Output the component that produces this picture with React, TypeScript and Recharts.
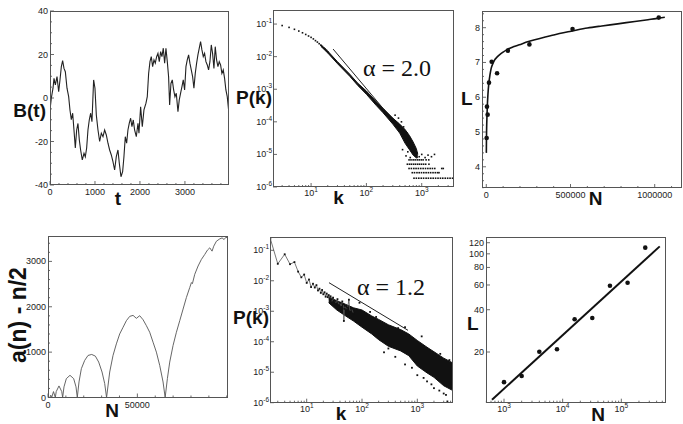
import React from 'react'
import {
  ComposedChart,
  XAxis,
  YAxis,
  Line,
  Area,
  Scatter,
} from 'recharts'

const W = 683
const H = 424
const SANS = '"Liberation Sans", Arial, sans-serif'
const SERIF = '"Liberation Serif", "Times New Roman", serif'

// ---- panel 1: random walk B(t)
const walkT = [0, 30, 67, 89, 119, 156, 193, 222, 252, 281, 311, 341, 378, 415, 444, 474, 504, 533, 563, 593, 622, 652, 681, 718, 756, 785, 815, 844, 874, 904, 933, 970, 1000, 1030, 1067, 1104, 1141, 1178, 1215, 1252, 1289, 1326, 1363, 1400, 1437, 1474, 1511, 1541, 1578, 1615, 1644, 1674, 1704, 1733, 1763, 1793, 1822, 1852, 1881, 1919, 1956, 1978, 2015, 2052, 2089, 2134, 2163, 2193, 2223, 2252, 2282, 2312, 2341, 2371, 2400, 2430, 2460, 2489, 2519, 2549, 2578, 2608, 2637, 2660, 2689, 2719, 2749, 2778, 2808, 2845, 2874, 2904, 2934, 2963, 2993, 3023, 3052, 3082, 3111, 3141, 3171, 3200, 3230, 3260, 3289, 3319, 3348, 3378, 3408, 3437, 3467, 3497, 3526, 3556, 3586, 3615, 3645, 3674, 3704, 3734, 3763, 3793, 3822, 3852, 3882, 3911, 3941, 3971]
const walkB = [-5.5, 0, 4.5, 9, 6, 9.8, 2.9, 8.3, 14.4, 17.2, 13.6, 12.1, 4.5, 0.6, -5.5, -10, -7, -14.7, -23, -14.7, -11.7, -19.3, -23.9, -28.5, -25.4, -27, -23, -14.7, -10, -7, -10.9, 8.3, 4.5, -7.8, -14.7, -20, -16.2, -17.8, -14.7, -17, -20.8, -23.9, -26.2, -29.3, -33.1, -27, -23.9, -30, -36.2, -33.9, -27, -17.8, -20.8, -14.7, -11.6, -9.3, -13.2, -10.1, -14.7, -17.8, -11.6, -16.2, -4, -13.2, -5.5, -2.4, 0.6, 11.3, 16.7, 19, 14.4, 17.5, 16, 19, 20.5, 16.7, 21.3, 19, 22.9, 16, 22.9, 16.7, 9.8, -3.2, 6.7, 8.3, 3.7, 0.6, 2.2, -6.3, -0.9, 2.2, 5.2, 8.3, 3.7, 14.4, 17.5, 19.8, 16, 12.9, 9.8, 4.5, 11.3, 16, 19.8, 22.9, 25.9, 22.1, 19, 20.5, 16.7, 15.2, 12.9, 16.7, 24.4, 20.5, 13.6, 23.6, 17.5, 14.4, 16.7, 15.2, 11.3, 12.9, 9, 3.7, 0.6, -5.5]

// ---- panel 2: P(k), alpha = 2.0
const p2HeadK = [3, 4, 5, 6, 7, 8, 9, 10, 11, 12, 13, 14, 15, 16, 17, 18, 19, 20]
const p2HeadP = [0.09, 0.079, 0.069, 0.061, 0.054, 0.048, 0.043, 0.039, 0.035, 0.031, 0.028, 0.025, 0.0225, 0.0205, 0.0185, 0.017, 0.0155, 0.014]
const p2BandK = [15, 20, 30, 50, 70, 100, 150, 200, 300, 400, 500, 600, 700, 800, 850]
const p2BandLo = [0.0208, 0.013, 0.0061, 0.0025, 0.0013, 0.0007, 0.00032, 0.00019, 0.000085, 0.000045, 0.000022, 0.000014, 0.0000095, 0.0000078, 0.000008]
const p2BandHi = [0.0232, 0.0148, 0.007, 0.0029, 0.00152, 0.00088, 0.00042, 0.00026, 0.00013, 0.000085, 0.000058, 0.000038, 0.000024, 0.000015, 0.00001]
const p2RowLevels = [6.8e-6, 5e-6, 3.7e-6, 2.75e-6, 1.86e-6]
const p2RowA = [590, 640, 700, 760, 830, 900, 980, 1060, 1200, 1340]
const p2RowB = [550, 600, 650, 710, 770, 840, 910, 990, 1080, 1180, 1350]
const p2RowC = [590, 650, 720, 790, 870, 960, 1060, 1170, 1290, 1420, 1560, 1720, 2300, 2450]
const p2RowD = [675, 740, 820, 900, 990, 1090, 1200, 1320, 1450, 1600, 1760, 1930, 2050]
const p2RowE = [725, 800, 885, 980, 1080, 1200, 1320, 1460, 1610, 1780, 1970, 2180, 2400, 2660, 2940, 3250, 3600]
const p2ScatterK = [330, 380, 430, 470, 540, 600, 650, 450, 520, 560, 620, 680, 750, 820, 900, 1000, 1150, 1300, 1500, 1700]
const p2ScatterP = [0.00016, 0.00013, 0.0001, 0.00007, 0.000045, 0.00003, 0.000025, 0.000014, 0.000009, 0.000012, 0.000008, 0.000012, 0.0000095, 0.000011, 0.0000085, 0.00001, 0.000008, 0.0000095, 0.0000085, 0.00001]
const p2SlopeK = [25, 212]
const p2SlopeP = [0.0171, 0.00023]

// ---- panel 3: L vs N (linear)
const p3N = [2000, 4000, 8000, 16000, 32000, 64000, 128000, 256000, 512000, 1024000]
const p3L = [4.83, 5.73, 5.5, 6.42, 7.02, 6.69, 7.34, 7.52, 7.96, 8.29]
const p3FitN = [300, 1000, 2000, 4000, 6000, 10000, 15000, 22000, 29000, 40000, 49000, 65000, 78000, 100000, 123000, 160000, 196000, 250000, 294000, 350000, 392000, 450000, 504000, 600000, 686000, 780000, 882000, 960000, 1008000, 1060000]
const p3FitL = [4.4, 4.8, 5.1, 5.45, 5.73, 6.1, 6.4, 6.65, 6.83, 6.98, 7.07, 7.16, 7.22, 7.3, 7.37, 7.45, 7.51, 7.6, 7.66, 7.73, 7.78, 7.85, 7.9, 7.99, 8.05, 8.11, 8.18, 8.23, 8.26, 8.3]

// ---- panel 4: a(n) - n/2
const conwayN = [0, 1024, 1536, 2048, 3072, 4096, 4600, 6144, 7700, 8192, 8950, 10260, 12300, 14370, 15670, 16384, 17350, 18660, 20520, 22390, 24450, 26500, 28360, 30230, 31720, 32768, 34520, 36380, 38250, 40110, 41980, 43840, 45710, 47580, 49440, 51310, 53170, 55040, 56900, 58770, 60630, 62500, 64370, 65536, 66790, 68100, 69960, 71830, 73700, 75560, 77430, 79290, 80230, 80790, 82090, 83960, 85820, 87690, 89180, 90490, 91790, 92730, 94220, 96080, 97390, 98510, 99440, 100750]
const conwayV = [0, 0, 50, 0, 130, 0, 130, 255, 130, 0, 234, 416, 489, 416, 234, 0, 343, 635, 818, 927, 949, 912, 781, 562, 307, 0, 562, 927, 1182, 1401, 1547, 1693, 1788, 1810, 1745, 1803, 1715, 1584, 1438, 1219, 1000, 708, 343, 0, 416, 781, 1146, 1438, 1693, 1949, 2204, 2423, 2533, 2510, 2715, 2898, 3044, 3153, 3248, 3299, 3226, 3336, 3445, 3496, 3518, 3482, 3530, 3520]

// ---- panel 5: P(k), alpha = 1.2
const p5LineK = [2.2, 3, 4, 5, 6, 7, 8, 9, 10, 11, 12, 13, 14, 15, 16, 17, 18, 19, 20, 21, 22, 23, 24, 25, 26, 27, 28, 29, 30, 32, 34, 36, 38, 40, 42, 44, 46, 47, 48, 50, 52, 55, 58, 60, 65, 70]
const p5LineP = [0.24, 0.036, 0.074, 0.035, 0.041, 0.02, 0.013, 0.016, 0.0085, 0.011, 0.0062, 0.008, 0.006, 0.0072, 0.0048, 0.0055, 0.004, 0.005, 0.0036, 0.0042, 0.003, 0.0038, 0.0029, 0.0034, 0.0026, 0.0031, 0.0024, 0.002, 0.0028, 0.0022, 0.0018, 0.0025, 0.0016, 0.0019, 0.0014, 0.0021, 0.0017, 0.00048, 0.0012, 0.0015, 0.0011, 0.0013, 0.0024, 0.001, 0.0012, 0.00085]
const p5BandK = [25, 35, 50, 70, 100, 150, 200, 300, 500, 700, 1000, 1500, 2000, 3000, 4400]
const p5BandLo = [0.0019, 0.0011, 0.00071, 0.00048, 0.0003, 0.00018, 0.000117, 0.000071, 0.00005, 0.000035, 0.000016, 0.0000095, 0.0000068, 0.0000036, 0.0000025]
const p5BandHi = [0.003, 0.0022, 0.0017, 0.0013, 0.0011, 0.0007, 0.00054, 0.00036, 0.00025, 0.00018, 0.00011, 0.000066, 0.000047, 0.000029, 0.00002]
const p5ScatterK = [90, 140, 180, 250, 300, 400, 600, 800, 1000, 1300, 1500, 1800, 2000, 2500, 3000, 3300, 3500, 4000, 4200, 600, 1200, 2600, 3800, 450]
const p5ScatterP = [0.0019, 0.00095, 0.00065, 0.000045, 0.00006, 0.000032, 0.000018, 0.000014, 0.000008, 0.0000065, 0.000005, 0.000004, 0.000003, 0.0000025, 0.000002, 0.0000018, 0.0000011, 0.000003, 0.0000042, 0.0003, 0.00015, 0.00004, 0.000025, 0.00028]
const p5SlopeK = [25.3, 679]
const p5SlopeP = [0.00865, 0.000237]

// ---- panel 6: L vs N (log-log)
const p6N = [1000, 2000, 4000, 8000, 16000, 32000, 64000, 128000, 256000]
const p6L = [12.2, 13.5, 20.1, 20.9, 34.2, 34.9, 59.3, 62.2, 110.7]
const p6FitN = [624, 452000]
const p6FitL = [9.15, 113]

// ---- tick labels
const p1XTicks = [0, 1000, 2000, 3000]
const p1YTicks = [-40, -20, 0, 20, 40]
const logKTicks = [10, 100, 1000]
const logPTicks = [1e-6, 1e-5, 1e-4, 1e-3, 1e-2, 1e-1]
const p3XTicks = [0, 500000, 1000000]
const p3YTicks = [4, 5, 6, 7, 8]
const p4XTicks = [0, 50000]
const p4YTicks = [0, 1000, 2000, 3000]
const p6XTicks = [1000, 10000, 100000]
const p6YTicks = [20, 40, 60, 80, 100, 120]

const range = (a: number, b: number, s: number) => {
  const out: number[] = []
  for (let v = a; v <= b + s * 1e-6; v += s) out.push(Math.round(v * 1000) / 1000)
  return out
}
const logMinors = (lo: number, hi: number) => {
  const out: number[] = []
  for (let d = 1; d <= 1e6; d *= 10)
    for (let m = 1; m <= 9; m++) {
      const v = d * m
      if (v >= lo && v <= hi) out.push(v)
    }
  return out
}

const pairs = (xs: number[], ys: number[]) => xs.map((x, i) => ({ x, y: ys[i] }))

type Box = { l: number; t: number; r: number; b: number }
const YW = 30
const XH = 20
const marginFor = (b: Box) => ({ left: b.l - YW, top: b.t, right: W - b.r, bottom: H - b.b - XH })

const box1: Box = { l: 50, t: 11, r: 229, b: 185 }
const box2: Box = { l: 273, t: 10, r: 454, b: 187 }
const box3: Box = { l: 482, t: 11, r: 682, b: 188 }
const box4: Box = { l: 48, t: 236, r: 228, b: 397.5 }
const box5: Box = { l: 270, t: 237, r: 453, b: 402.7 }
const box6: Box = { l: 486, t: 237, r: 666, b: 402.7 }

const isIn = (list: number[], v: number) => list.some((m) => Math.abs(m - v) <= Math.abs(m) * 1e-9 + 1e-9)
const pow10 = (v: number) => (
  <>
    <tspan>10</tspan>
    <tspan dy={-4} fontSize={6.5}>{Math.round(Math.log10(v))}</tspan>
  </>
)
const plain = (v: number) => String(v)

const xTick = (majors: number[], fmt: (v: number) => React.ReactNode, dy = 10) => (props: any) => {
  const { x, y, payload } = props
  const major = isIn(majors, payload.value)
  return (
    <g>
      <line x1={x} x2={x} y1={y} y2={y - (major ? 4 : 2)} stroke="#444" strokeWidth={0.8} />
      {major && (
        <text x={x} y={y + dy} textAnchor="middle" fontSize={9} fontFamily={SANS} fill="#222">
          {fmt(payload.value)}
        </text>
      )}
    </g>
  )
}

const yTick = (majors: number[], fmt: (v: number) => React.ReactNode, dx = 2) => (props: any) => {
  const { x, y, payload } = props
  const major = isIn(majors, payload.value)
  return (
    <g>
      <line x1={x} x2={x + (major ? 4 : 2)} y1={y} y2={y} stroke="#444" strokeWidth={0.8} />
      {major && (
        <text x={x - dx} y={y + 3} textAnchor="end" fontSize={9} fontFamily={SANS} fill="#222">
          {fmt(payload.value)}
        </text>
      )}
    </g>
  )
}

const dotShape = (r: number, fill = '#111') => (p: any) => <circle cx={p.cx} cy={p.cy} r={r} fill={fill} />
const sqShape = (s: number) => (p: any) => <rect x={p.cx - s / 2} y={p.cy - s / 2} width={s} height={s} fill="#111" />

const axisCommon = {
  type: 'number' as const,
  allowDataOverflow: true,
  axisLine: false,
  tickLine: false,
  tickSize: 0,
  tickMargin: 0,
  interval: 0 as const,
  isAnimationActive: false,
}

function Panel({ box, children }: { box: Box; children: React.ReactNode }) {
  return (
    <div style={{ position: 'absolute', left: 0, top: 0 }}>
      <ComposedChart width={W} height={H} margin={marginFor(box)}>
        {children}
      </ComposedChart>
    </div>
  )
}

function Frame({ box }: { box: Box }) {
  return (
    <div
      style={{
        position: 'absolute',
        left: box.l,
        top: box.t,
        width: box.r - box.l,
        height: box.b - box.t,
        border: '1px solid #555',
        boxSizing: 'border-box',
        pointerEvents: 'none',
      }}
    />
  )
}

const title = { fontFamily: SANS, fontWeight: 700, fontSize: 19, fill: '#111' }
const alpha = { fontFamily: SERIF, fontSize: 24, fill: '#111' }

export default function App() {
  const p2Rows = [p2RowA, p2RowB, p2RowC, p2RowD, p2RowE].flatMap((ks, i) =>
    ks.map((x) => ({ x, y: p2RowLevels[i] }))
  )
  const p2Band = p2BandK.map((x, i) => ({ x, band: [p2BandLo[i], p2BandHi[i]] }))
  const p5Band = p5BandK.map((x, i) => ({ x, band: [p5BandLo[i], p5BandHi[i]] }))

  return (
    <div style={{ position: 'absolute', left: 0, top: 0, width: W, height: H, background: '#fff' }}>
      {/* panel 1 */}
      <Panel box={box1}>
        <XAxis {...axisCommon} dataKey="x" domain={[0, 3980]} height={XH}
          ticks={range(0, 3800, 200)} tick={xTick(p1XTicks, plain)} />
        <YAxis {...axisCommon} dataKey="y" domain={[-40, 40]} width={YW}
          ticks={range(-40, 40, 5)} tick={yTick(p1YTicks, plain)} />
        <Line data={pairs(walkT, walkB)} dataKey="y" stroke="#222" strokeWidth={1.1}
          dot={false} isAnimationActive={false} />
      </Panel>

      {/* panel 2 */}
      <Panel box={box2}>
        <XAxis {...axisCommon} dataKey="x" scale="log" domain={[2.05, 3830]} height={XH}
          ticks={logMinors(2.05, 3830)} tick={xTick(logKTicks, pow10, 9)} />
        <YAxis {...axisCommon} dataKey="y" scale="log" domain={[1e-6, 0.27]} width={YW}
          ticks={logPTicks} tick={yTick(logPTicks, pow10, 1)} />
        <Area data={p2Band} dataKey="band" type="linear" fill="#111" fillOpacity={1}
          stroke="#111" strokeWidth={1} isAnimationActive={false} dot={false} />
        <Scatter data={pairs(p2HeadK, p2HeadP)} shape={sqShape(1.6)} isAnimationActive={false} />
        <Scatter data={p2Rows} shape={sqShape(1.6)} isAnimationActive={false} />
        <Scatter data={pairs(p2ScatterK, p2ScatterP)} shape={sqShape(1.6)} isAnimationActive={false} />
        <Line data={pairs(p2SlopeK, p2SlopeP)} dataKey="y" stroke="#222" strokeWidth={1}
          dot={false} isAnimationActive={false} />
      </Panel>

      {/* panel 3 */}
      <Panel box={box3}>
        <XAxis {...axisCommon} dataKey="x" domain={[-25500, 1162000]} height={XH}
          ticks={range(0, 1100000, 100000)} tick={xTick(p3XTicks, plain)} />
        <YAxis {...axisCommon} dataKey="y" domain={[3.39, 8.48]} width={YW}
          ticks={range(3.4, 8.4, 0.2)} tick={yTick(p3YTicks, plain)} />
        <Line data={pairs(p3FitN, p3FitL)} dataKey="y" type="monotone" stroke="#111" strokeWidth={1.6}
          dot={false} isAnimationActive={false} />
        <Scatter data={pairs(p3N, p3L)} shape={dotShape(2.3)} isAnimationActive={false} />
      </Panel>

      {/* panel 4 */}
      <Panel box={box4}>
        <XAxis {...axisCommon} dataKey="x" domain={[0, 100700]} height={XH}
          ticks={range(0, 100000, 10000)} tick={xTick(p4XTicks, plain)} />
        <YAxis {...axisCommon} dataKey="y" domain={[0, 3560]} width={YW}
          ticks={range(0, 3400, 200)} tick={yTick(p4YTicks, plain)} />
        <Line data={pairs(conwayN, conwayV)} dataKey="y" stroke="#555" strokeWidth={0.9}
          dot={false} isAnimationActive={false} />
      </Panel>

      {/* panel 5 */}
      <Panel box={box5}>
        <XAxis {...axisCommon} dataKey="x" scale="log" domain={[2.17, 4420]} height={XH}
          ticks={logMinors(2.17, 4420)} tick={xTick(logKTicks, pow10, 9)} />
        <YAxis {...axisCommon} dataKey="y" scale="log" domain={[1e-6, 0.273]} width={YW}
          ticks={logPTicks} tick={yTick(logPTicks, pow10, 1)} />
        <Area data={p5Band} dataKey="band" type="linear" fill="#111" fillOpacity={1}
          stroke="#111" strokeWidth={1} isAnimationActive={false} dot={false} />
        <Line data={pairs(p5LineK, p5LineP)} dataKey="y" stroke="#555" strokeWidth={0.8}
          dot={sqShape(1.8)} isAnimationActive={false} />
        <Scatter data={pairs(p5ScatterK, p5ScatterP)} shape={sqShape(1.8)} isAnimationActive={false} />
        <Line data={pairs(p5SlopeK, p5SlopeP)} dataKey="y" stroke="#222" strokeWidth={1}
          dot={false} isAnimationActive={false} />
      </Panel>

      {/* panel 6 */}
      <Panel box={box6}>
        <XAxis {...axisCommon} dataKey="x" scale="log" domain={[493, 578000]} height={XH}
          ticks={logMinors(493, 578000)} tick={xTick(p6XTicks, pow10, 9)} />
        <YAxis {...axisCommon} dataKey="y" scale="log" domain={[8.71, 131.8]} width={YW}
          ticks={p6YTicks} tick={yTick(p6YTicks, plain)} />
        <Line data={pairs(p6FitN, p6FitL)} dataKey="y" stroke="#111" strokeWidth={2}
          dot={false} isAnimationActive={false} />
        <Scatter data={pairs(p6N, p6L)} shape={dotShape(2.3)} isAnimationActive={false} />
      </Panel>

      {[box1, box2, box3, box4, box5, box6].map((b, i) => (
        <Frame key={i} box={b} />
      ))}

      <svg width={W} height={H} style={{ position: 'absolute', left: 0, top: 0, pointerEvents: 'none' }}>
        <text x={46} y={117} textAnchor="end" {...title}>B(t)</text>
        <text x={118} y={205} textAnchor="middle" {...title}>t</text>
        <text x={272} y={103.5} textAnchor="end" {...title}>P(k)</text>
        <text x={338.5} y={204} textAnchor="middle" {...title}>k</text>
        <text x={363} y={76} {...alpha}>α = 2.0</text>
        <text x={461} y={105} {...title}>L</text>
        <text x={595.5} y={205} textAnchor="middle" {...title}>N</text>

        <text transform="translate(26,315) rotate(-90)" textAnchor="middle" {...title} fontSize={23}>
          a(n) - n/2
        </text>
        <text x={112} y={417} textAnchor="middle" {...title}>N</text>
        <text x={269} y={323.5} textAnchor="end" {...title}>P(k)</text>
        <text x={341} y={420} textAnchor="middle" {...title}>k</text>
        <text x={357} y={295} {...alpha}>α = 1.2</text>
        <text x={467} y={330} {...title}>L</text>
        <text x={598} y={421} textAnchor="middle" {...title}>N</text>
      </svg>
    </div>
  )
}
